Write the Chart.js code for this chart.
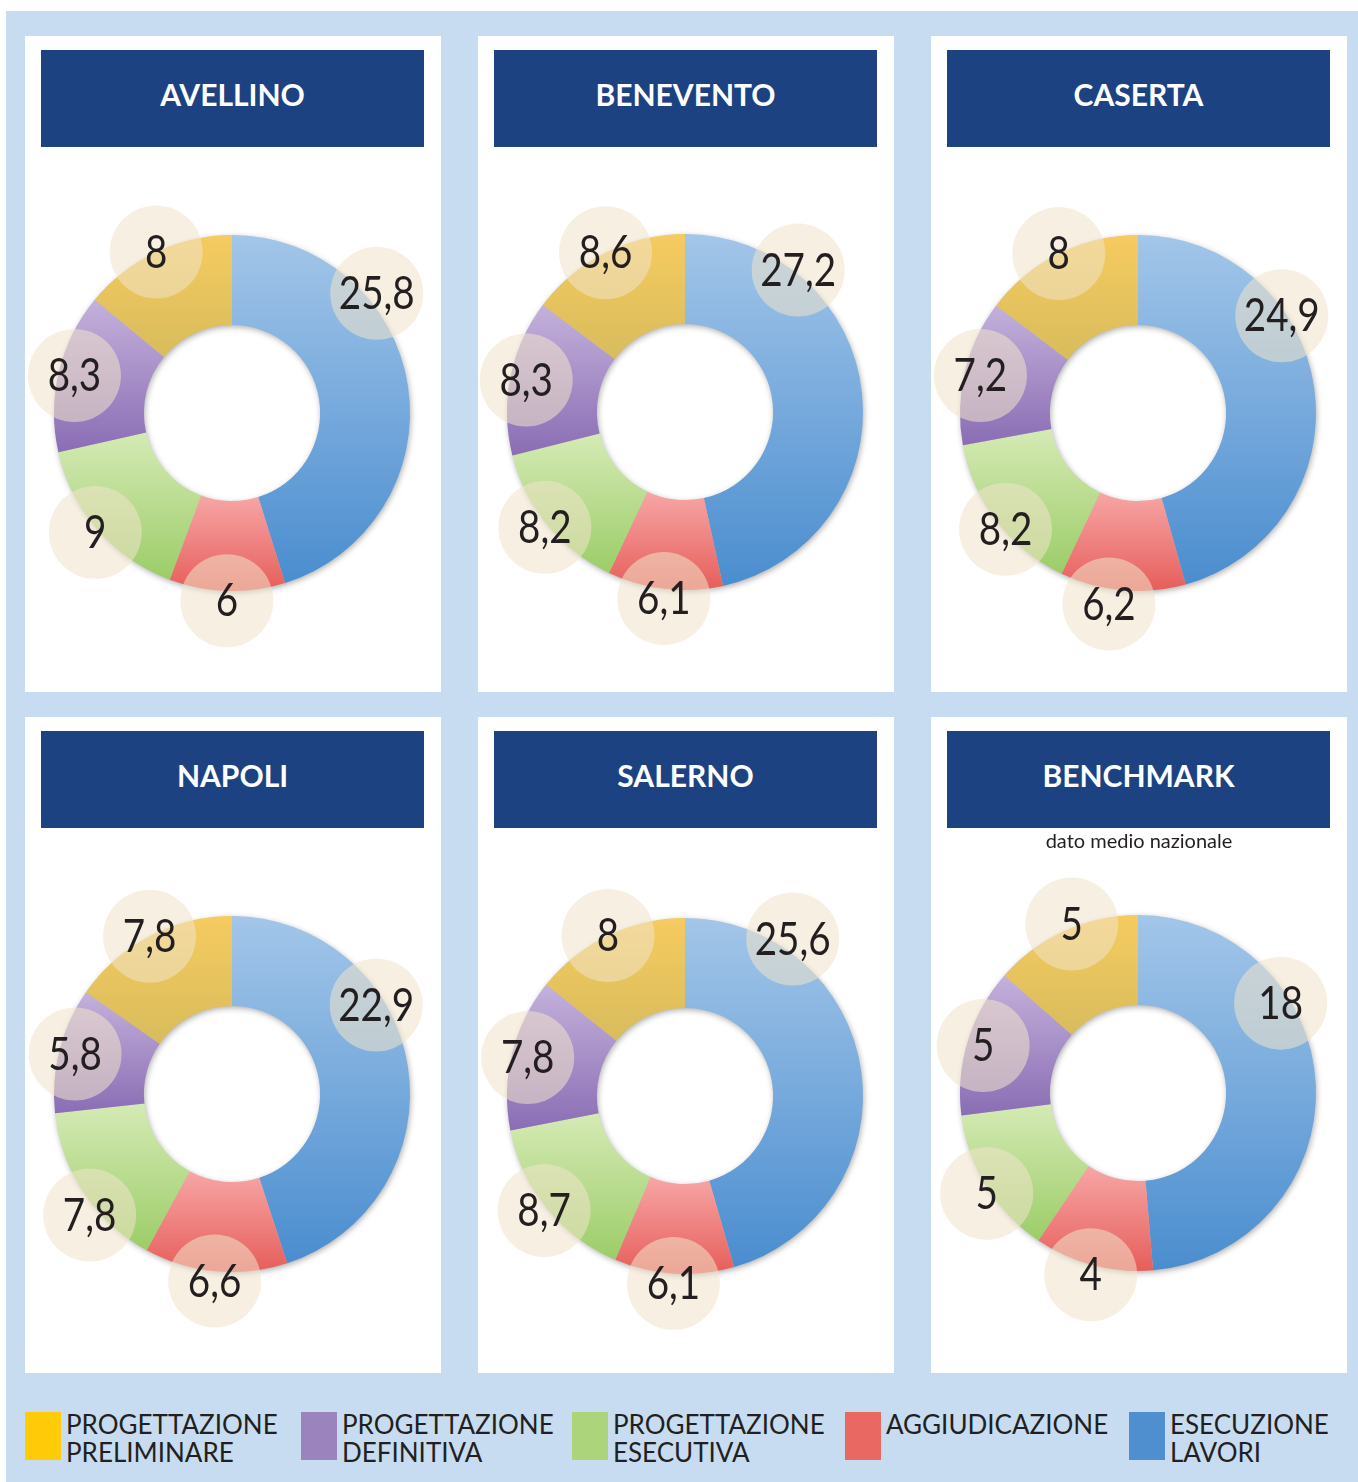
<!DOCTYPE html>
<html>
<head>
<meta charset="utf-8">
<script src="https://cdn.jsdelivr.net/npm/chart.js@4.4.1/dist/chart.umd.min.js"></script>
<style>
html,body{margin:0;padding:0;background:#fff;}
body{width:1358px;height:1482px;position:relative;overflow:hidden;font-family:Lato,'Open Sans',sans-serif;}
#bg{position:absolute;left:6px;top:11px;width:1352px;height:1471px;background:#c7dcf0;}
.panel{position:absolute;width:416px;height:656px;background:#fff;}
.hdr{position:absolute;left:16px;top:14px;width:383px;height:97px;background:#1c4282;color:#fff;font:700 30px/30px Lato,sans-serif;text-align:center;box-sizing:border-box;padding-top:29px;}
.panel canvas{position:absolute;left:0;top:111px;}
.sub{position:absolute;left:0;width:100%;top:113px;text-align:center;font:400 20px/20px Lato,sans-serif;color:#231f20;z-index:2;}
.leg-sq{position:absolute;top:1412px;width:36px;height:48px;}
.leg-tx{position:absolute;top:1410px;font:400 26px/28px Lato,sans-serif;color:#231f20;white-space:nowrap;}
</style>
</head>
<body>
<div id="bg"></div>
<div id="root"></div>
<script>
// ---------- DATA ----------
const CATEGORIES = ['PROGETTAZIONE PRELIMINARE', 'PROGETTAZIONE DEFINITIVA', 'PROGETTAZIONE ESECUTIVA', 'AGGIUDICAZIONE', 'ESECUZIONE LAVORI'];
const PROVINCES = ['AVELLINO', 'BENEVENTO', 'CASERTA', 'NAPOLI', 'SALERNO', 'BENCHMARK'];
const SUBTITLES = ['', '', '', '', '', 'dato medio nazionale'];
const AVELLINO  = [8, 8.3, 9, 6, 25.8];
const BENEVENTO = [8.6, 8.3, 8.2, 6.1, 27.2];
const CASERTA   = [8, 7.2, 8.2, 6.2, 24.9];
const NAPOLI    = [7.8, 5.8, 7.8, 6.6, 22.9];
const SALERNO   = [8, 7.8, 8.7, 6.1, 25.6];
const BENCHMARK = [5, 5, 5, 4, 18];
const SERIES = [AVELLINO, BENEVENTO, CASERTA, NAPOLI, SALERNO, BENCHMARK];

// ---------- STYLE ----------
const SWATCH   = ['#ffcb08', '#9b83bd', '#acd47b', '#ea6862', '#508fcf'];
const GRAD_TOP = ['#f6cb60', '#c4b1db', '#d5eab5', '#f7a6a6', '#a3c6e9'];
const GRAD_BOT = ['#d8bc5c', '#8a6db4', '#9ccd68', '#e65e5a', '#4a8dcf'];
// default label placement per category: [fraction along slice, distance / outer radius]
const LABEL_PLACE = [[0.5, 1.0], [0.5, 0.91], [0.5, 1.02], [0.5, 1.055], [0.3, 1.0]];
const CUTOUT = 0.495;
const CANVAS_H = 545;
const PANELS = [
  {left: 25,  top: 36,  cy: 266, place: {4: [0.31, 1.055]}},
  {left: 478, top: 36,  cy: 265, place: {4: [0.23, 1.02]}},
  {left: 931, top: 36,  cy: 266, place: {4: [0.34, 0.975], 3: [0.59, 1.085], 2: [0.43, 0.99]}},
  {left: 25,  top: 717, cy: 266, place: {4: [0.36, 0.952], 2: [0.38, 1.05]}},
  {left: 478, top: 717, cy: 268, place: {4: [0.21, 1.07]}},
  {left: 931, top: 717, cy: 265, place: {4: [0.33, 0.947], 2: [0.46, 1.02], 0: [0.56, 1.02]}}
];
const LEGEND_POS = [25, 301, 572, 845, 1129];
const LABEL_FONT = 46;

const fmt = v => String(v).replace('.', ',');
// dataset is drawn clockwise from 12 o'clock: Esecuzione lavori first
const catOf = i => CATEGORIES.length - 1 - i;

function sliceFill(ctx) {
  const chart = ctx.chart, area = chart.chartArea;
  const ci = catOf(ctx.dataIndex);
  if (!area || ctx.type !== 'data') return SWATCH[ci];
  const data = ctx.dataset.data;
  const total = data.reduce((a, b) => a + b, 0);
  let cum = 0;
  for (let j = 0; j < ctx.dataIndex; j++) cum += data[j];
  const a0 = -Math.PI / 2 + 2 * Math.PI * cum / total;
  const a1 = a0 + 2 * Math.PI * data[ctx.dataIndex] / total;
  const cy = (area.top + area.bottom) / 2;
  const R = Math.min(area.width, area.height) / 2, r = R * CUTOUT;
  let y0 = Infinity, y1 = -Infinity;
  for (let k = 0; k <= 90; k++) {
    const a = a0 + (a1 - a0) * k / 90;
    for (const rad of [r, R]) {
      const y = cy + rad * Math.sin(a);
      if (y < y0) y0 = y;
      if (y > y1) y1 = y;
    }
  }
  const g = chart.ctx.createLinearGradient(0, y0, 0, y1);
  g.addColorStop(0, GRAD_TOP[ci]);
  g.addColorStop(1, GRAD_BOT[ci]);
  return g;
}

const ringShadow = {
  id: 'ringShadow',
  beforeDatasetsDraw(chart) {
    const arc = chart.getDatasetMeta(0).data[0];
    if (!arc) return;
    const {x, y, outerRadius, innerRadius} = arc;
    const c = chart.ctx;
    c.save();
    c.shadowColor = 'rgba(0,0,0,0.35)';
    c.shadowBlur = 6;
    c.shadowOffsetX = 1;
    c.shadowOffsetY = 2;
    c.beginPath();
    c.arc(x, y, outerRadius - 0.5, 0, 2 * Math.PI);
    c.arc(x, y, innerRadius + 0.5, 0, 2 * Math.PI, true);
    c.fillStyle = '#bbbbbb';
    c.fill();
    c.restore();
  }
};

const bubbleLabels = {
  id: 'bubbleLabels',
  afterDatasetsDraw(chart, args, opts) {
    const meta = chart.getDatasetMeta(0);
    const ds = chart.data.datasets[0];
    const c = chart.ctx;
    meta.data.forEach((arc, i) => {
      const ci = catOf(i);
      const {x, y, startAngle, endAngle, outerRadius} = arc;
      const pl = (opts.place && opts.place[ci]) || LABEL_PLACE[ci];
      const a = startAngle + (endAngle - startAngle) * pl[0];
      const d = outerRadius * pl[1];
      const bx = x + d * Math.cos(a), by = y + d * Math.sin(a);
      c.save();
      c.beginPath();
      c.arc(bx, by, 46.5, 0, 2 * Math.PI);
      c.fillStyle = 'rgba(241,227,203,0.55)';
      c.fill();
      c.translate(bx, by);
      c.scale(0.84, 1);
      c.font = '400 ' + LABEL_FONT + 'px Lato, sans-serif';
      c.fillStyle = '#231f20';
      c.textAlign = 'center';
      c.textBaseline = 'alphabetic';
      c.fillText(fmt(ds.data[i]), 0, LABEL_FONT * 0.34);
      c.restore();
    });
  }
};

function build() {
  const root = document.getElementById('root');
  PROVINCES.forEach((name, p) => {
    const L = PANELS[p];
    const panel = document.createElement('div');
    panel.className = 'panel';
    panel.style.left = L.left + 'px';
    panel.style.top = L.top + 'px';
    const hdr = document.createElement('div');
    hdr.className = 'hdr';
    hdr.textContent = name;
    panel.appendChild(hdr);
    const cv = document.createElement('canvas');
    cv.width = 416; cv.height = CANVAS_H;
    cv.style.width = '416px'; cv.style.height = CANVAS_H + 'px';
    panel.appendChild(cv);
    if (SUBTITLES[p]) {
      const s = document.createElement('div');
      s.className = 'sub';
      s.textContent = SUBTITLES[p];
      panel.appendChild(s);
    }
    root.appendChild(panel);

    const values = SERIES[p].slice().reverse();
    const labels = CATEGORIES.slice().reverse();
    new Chart(cv, {
      type: 'doughnut',
      data: {
        labels: labels,
        datasets: [{
          data: values,
          backgroundColor: sliceFill,
          borderWidth: 0,
          hoverOffset: 0
        }]
      },
      options: {
        responsive: false,
        devicePixelRatio: 1,
        animation: false,
        events: [],
        cutout: (CUTOUT * 100) + '%',
        layout: {padding: {left: 29, right: 31, top: L.cy - 178, bottom: CANVAS_H - (L.cy + 178)}},
        plugins: {
          legend: {display: false},
          tooltip: {enabled: false},
          bubbleLabels: {place: L.place}
        }
      },
      plugins: [ringShadow, bubbleLabels]
    });
  });

  // legend
  CATEGORIES.forEach((cat, i) => {
    const sq = document.createElement('div');
    sq.className = 'leg-sq';
    sq.style.left = LEGEND_POS[i] + 'px';
    sq.style.background = SWATCH[i];
    root.appendChild(sq);
    const tx = document.createElement('div');
    tx.className = 'leg-tx';
    tx.style.left = (LEGEND_POS[i] + 41) + 'px';
    tx.innerHTML = cat.split(' ').join('<br>');
    root.appendChild(tx);
  });
}

const ready = (document.fonts && document.fonts.load)
  ? Promise.all([document.fonts.load('400 46px Lato'), document.fonts.load('700 30px Lato')]).catch(() => {})
  : Promise.resolve();
ready.then(build);
</script>
</body>
</html>
